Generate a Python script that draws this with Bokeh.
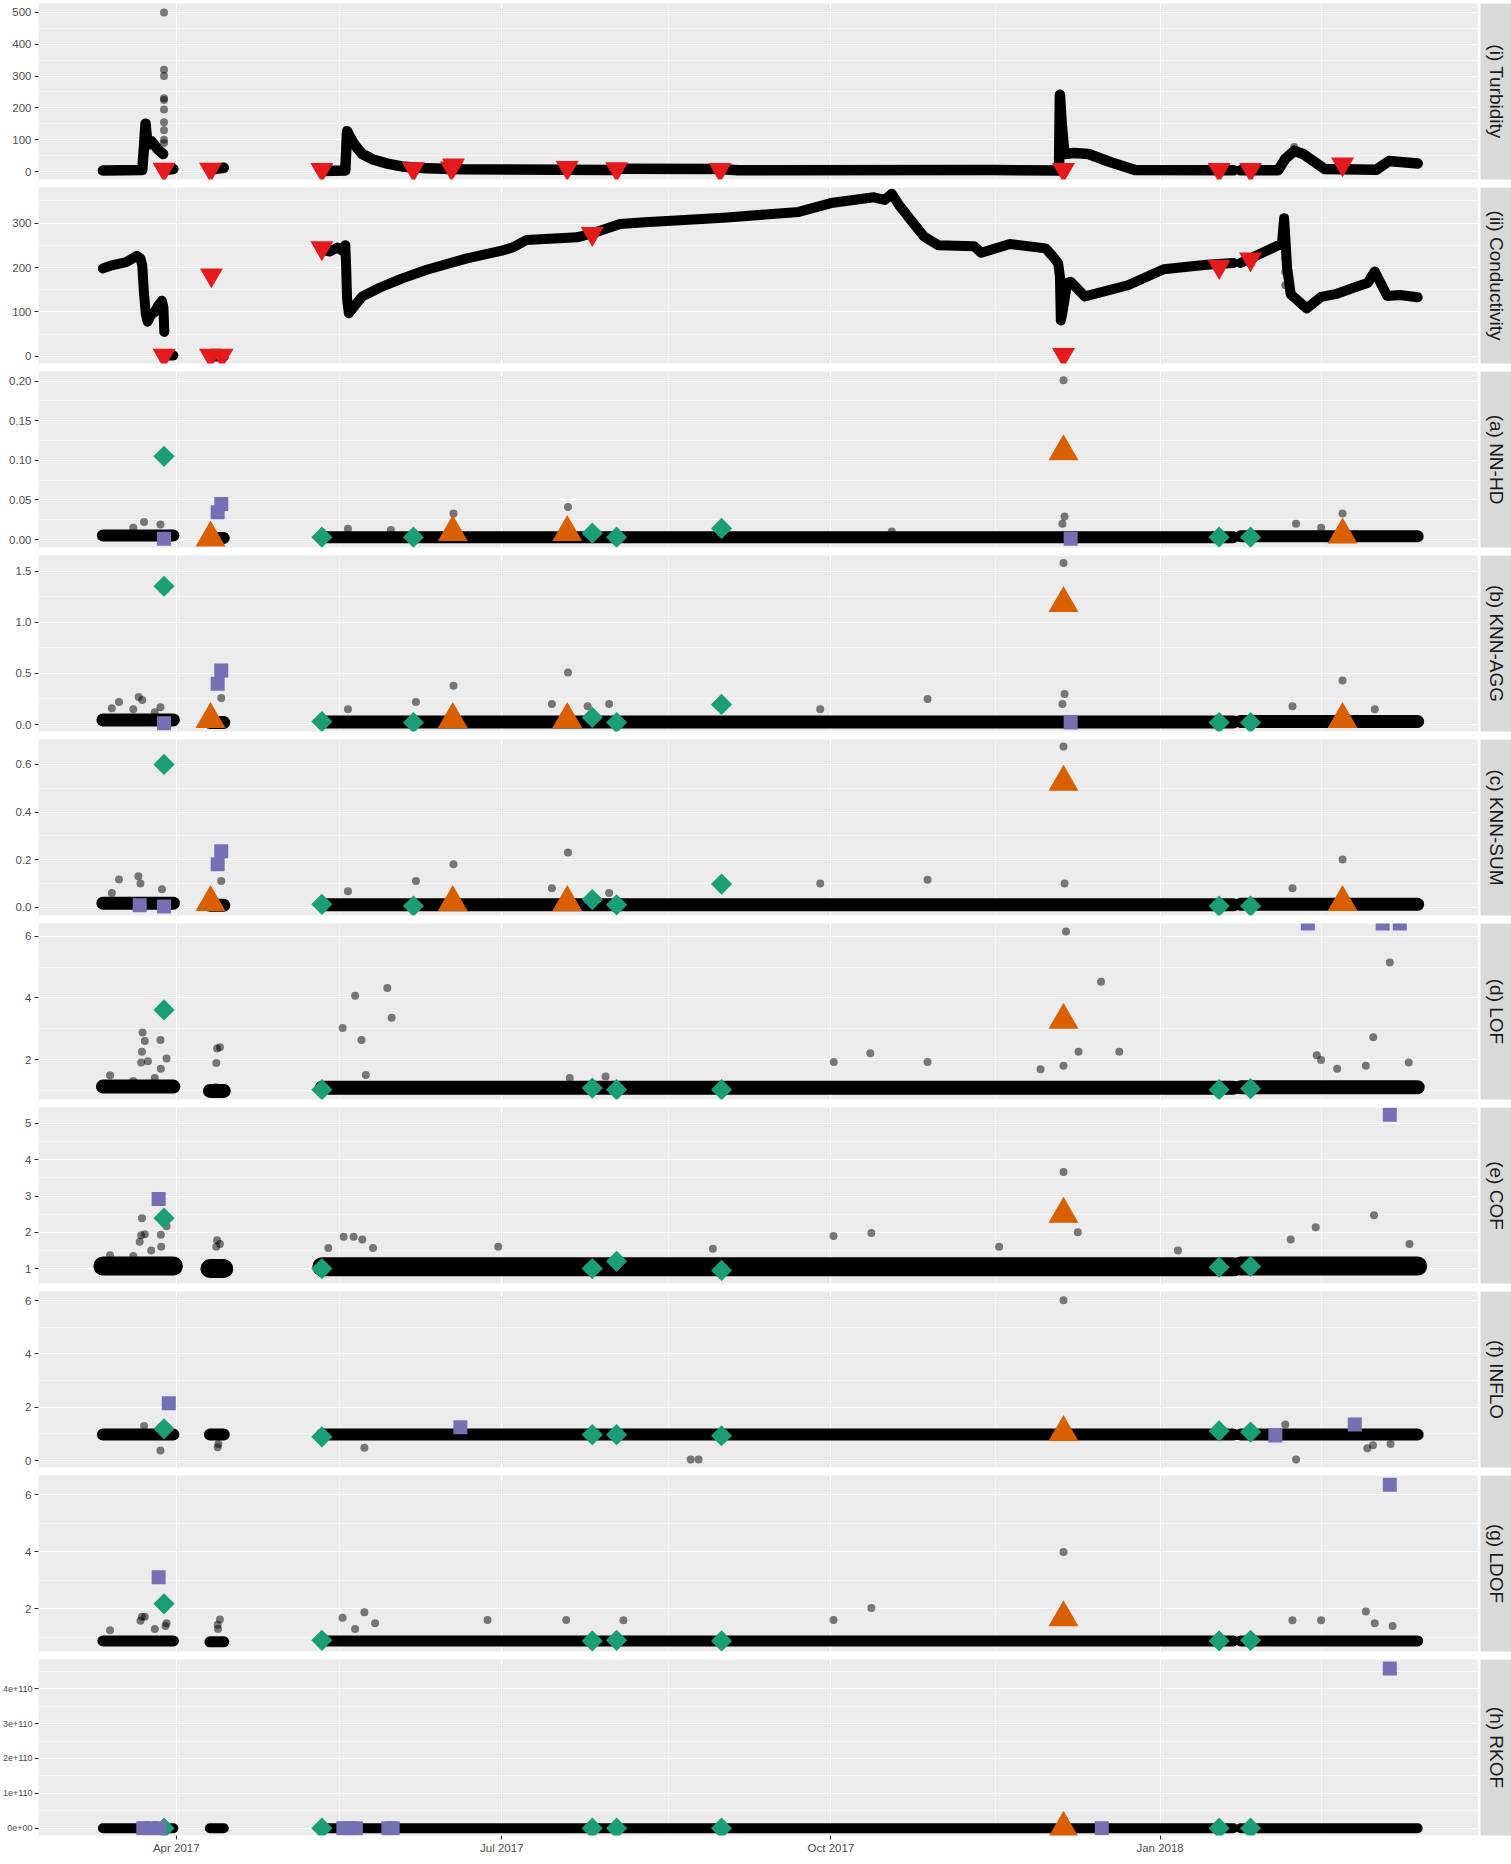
import math
import pandas as pd
from bokeh.plotting import figure
from bokeh.layouts import column, row
from bokeh.models import Range1d, FixedTicker, CustomJSTickFormatter, DatetimeTickFormatter
from bokeh.embed import file_html
from bokeh.resources import INLINE
from bokeh.core.properties import value

nan = float("nan")

# ---------------- axis / labels ----------------
x_start = "2017-02-21 12:00"
x_end = "2018-03-31 00:00"
x_major = ["2017-04-01", "2017-07-01", "2017-10-01", "2018-01-01"]
x_minor = ["2017-05-16 12:00", "2017-08-16 12:00", "2017-11-16 00:00", "2018-02-15 00:00"]
strip_titles = ["(i) Turbidity", "(ii) Conductivity", "(a) NN-HD", "(b) KNN-AGG", "(c) KNN-SUM",
                "(d) LOF", "(e) COF", "(f) INFLO", "(g) LDOF", "(h) RKOF"]

# ---------------- (i) Turbidity ----------------
turb_dates = ["2017-03-11 12:00", "2017-03-22 12:00", "2017-03-23 00:00", "2017-03-23 10:00", "2017-03-23 20:00",
              "2017-03-24 06:00", "2017-03-25 02:00", "2017-03-27 00:00", "2017-03-28 08:00",
              "2017-03-28 12:00",
              "2017-03-28 18:00", "2017-03-31 05:00",
              "2017-04-05 00:00",
              "2017-04-10 12:00", "2017-04-14 07:00",
              "2017-05-01 00:00",
              "2017-05-11 17:00", "2017-05-18 06:00", "2017-05-18 18:00", "2017-05-19 12:00", "2017-05-20 12:00",
              "2017-05-21 12:00", "2017-05-23 00:00", "2017-05-26 00:00", "2017-05-30 00:00", "2017-06-03 00:00",
              "2017-06-10 00:00", "2017-06-20 00:00", "2017-08-01 00:00",
              "2017-08-03 00:00", "2017-08-31 00:00", "2017-09-05 00:00", "2017-11-15 00:00", "2017-12-03 18:00",
              "2017-12-04 00:00", "2017-12-04 12:00", "2017-12-05 06:00", "2017-12-08 00:00", "2017-12-12 00:00",
              "2017-12-18 00:00", "2017-12-25 00:00", "2018-01-21 12:00",
              "2018-01-22 12:00",
              "2018-01-23 12:00", "2018-02-03 00:00", "2018-02-05 00:00", "2018-02-07 12:00", "2018-02-10 00:00",
              "2018-02-16 00:00", "2018-03-02 12:00", "2018-03-06 00:00", "2018-03-14 00:00"]
turb_vals = [3, 5, 80, 150, 100, 85, 95, 68, 55,
             nan,
             5, 8,
             nan,
             6, 12,
             nan,
             2, 3, 127, 110, 90,
             75, 55, 38, 25, 16,
             10, 7, 5,
             9, 8, 4, 5, 3,
             241, 150, 55, 58, 55,
             30, 5, 4,
             nan,
             4, 4, 40, 65, 55,
             8, 6, 33, 25]
turb_pts_dates = ["2017-03-28 14:00"] * 10 + ["2017-12-04 02:00"] * 4 + ["2017-05-18 12:00"] * 2 + ["2018-02-07 12:00"]
turb_pts_vals = [500, 320, 300, 230, 225, 195, 155, 130, 100, 90, 236, 222, 196, 180, 30, 55, 77]
turb_anom_dates = ["2017-03-28 14:00", "2017-04-10 14:00", "2017-05-11 17:00", "2017-06-06 07:00", "2017-06-16 22:00",
                   "2017-06-17 12:00", "2017-07-19 07:00", "2017-08-02 02:00", "2017-08-31 00:00", "2017-12-05 00:00",
                   "2018-01-17 12:00", "2018-01-26 07:00", "2018-02-21 00:00"]
turb_anom_vals = [7, 7, 6, 8, 11, 20, 12, 8, 6, 6, 6, 6, 23]

# ---------------- (ii) Conductivity ----------------
cond_dates = ["2017-03-11 12:00", "2017-03-14 00:00", "2017-03-18 00:00", "2017-03-21 00:00", "2017-03-22 00:00",
              "2017-03-22 12:00", "2017-03-23 00:00", "2017-03-23 12:00", "2017-03-24 00:00", "2017-03-25 00:00",
              "2017-03-26 00:00", "2017-03-27 00:00", "2017-03-28 00:00", "2017-03-28 10:00", "2017-03-28 16:00",
              "2017-03-28 20:00",
              "2017-03-29 02:00", "2017-03-31 05:00",
              "2017-04-05 00:00",
              "2017-04-10 12:00", "2017-04-14 07:00",
              "2017-05-01 00:00",
              "2017-05-11 17:00", "2017-05-14 00:00", "2017-05-16 00:00", "2017-05-18 00:00", "2017-05-18 06:00",
              "2017-05-18 12:00", "2017-05-18 18:00", "2017-05-19 06:00", "2017-05-21 00:00", "2017-05-23 00:00",
              "2017-05-28 00:00", "2017-06-03 00:00", "2017-06-10 00:00", "2017-06-21 00:00", "2017-07-01 00:00",
              "2017-07-04 00:00", "2017-07-08 00:00", "2017-07-22 00:00", "2017-07-26 00:00", "2017-08-03 00:00",
              "2017-08-10 00:00", "2017-09-01 00:00", "2017-09-22 00:00", "2017-10-01 00:00", "2017-10-13 00:00",
              "2017-10-16 00:00", "2017-10-18 00:00", "2017-10-20 00:00", "2017-10-24 00:00", "2017-10-27 00:00",
              "2017-10-31 00:00", "2017-11-10 00:00", "2017-11-12 00:00", "2017-11-20 00:00", "2017-11-30 00:00",
              "2017-12-02 00:00", "2017-12-03 12:00", "2017-12-04 00:00", "2017-12-04 06:00", "2017-12-04 18:00",
              "2017-12-06 00:00", "2017-12-07 00:00", "2017-12-11 00:00", "2017-12-23 00:00", "2018-01-02 00:00",
              "2018-01-14 00:00", "2018-01-21 12:00",
              "2018-01-22 12:00",
              "2018-01-23 12:00", "2018-02-04 02:00", "2018-02-04 16:00", "2018-02-05 12:00", "2018-02-06 12:00",
              "2018-02-11 00:00", "2018-02-15 00:00", "2018-02-19 00:00", "2018-02-24 16:00", "2018-02-28 00:00",
              "2018-03-02 00:00", "2018-03-05 12:00", "2018-03-09 00:00", "2018-03-14 00:00"]
cond_vals = [198, 205, 212, 226, 220,
             205, 140, 95, 78, 95,
             100, 115, 125, 110, 55,
             nan,
             2, 2,
             nan,
             0, 0,
             nan,
             240, 236, 245, 235, 250,
             200, 130, 97, 115, 135,
             155, 175, 195, 220, 238,
             245, 262, 268, 276, 298,
             302, 312, 325, 345, 358,
             352, 366, 341, 300, 270,
             250, 248, 233, 253, 243,
             225, 210, 180, 81, 100,
             165, 168, 135, 160, 196,
             206, 210,
             nan,
             210, 254, 311, 200, 140,
             108, 134, 140, 156, 165,
             191, 136, 138, 133]
cond_pts_dates = ["2017-03-23 00:00"] * 3 + ["2017-03-28 10:00"] * 3 + ["2017-05-18 12:00"] * 3 + \
                 ["2017-12-04 02:00"] * 3 + ["2018-02-05 00:00"] * 5
cond_pts_vals = [150, 130, 115, 88, 80, 68, 200, 170, 135, 158, 128, 97, 280, 250, 220, 190, 160]
cond_anom_dates = ["2017-03-28 14:00", "2017-04-10 20:00", "2017-04-10 14:00", "2017-04-13 19:00", "2017-05-11 17:00",
                   "2017-07-26 07:00", "2017-12-05 00:00", "2018-01-17 12:00", "2018-01-26 07:00"]
cond_anom_vals = [2, 183, 2, 2, 244, 276, 4, 202, 219]

# ---------------- score panels: dense band of scores ----------------
band_dates = ["2017-03-11 12:00", "2017-03-31 05:00", "2017-04-05 00:00", "2017-04-10 10:00", "2017-04-14 07:00",
              "2017-05-01 00:00", "2017-05-11 17:00", "2018-01-21 12:00", "2018-01-22 12:00", "2018-01-23 12:00",
              "2018-03-14 00:00"]
nnhd_band = [0.005, 0.005, nan, 0.002, 0.002, nan, 0.003, 0.003, nan, 0.004, 0.004]
knnagg_band = [0.045, 0.045, nan, 0.02, 0.02, nan, 0.025, 0.025, nan, 0.03, 0.03]
knnsum_band = [0.017, 0.017, nan, 0.008, 0.008, nan, 0.01, 0.01, nan, 0.012, 0.012]
lof_band = [1.12, 1.12, nan, 0.98, 0.98, nan, 1.08, 1.08, nan, 1.1, 1.1]
cof_band = [1.07, 1.07, nan, 1.0, 1.0, nan, 1.05, 1.05, nan, 1.07, 1.07]
inflo_band = [0.98, 0.98, nan, 0.98, 0.98, nan, 0.98, 0.98, nan, 0.98, 0.98]
ldof_band = [0.88, 0.88, nan, 0.85, 0.85, nan, 0.88, 0.88, nan, 0.88, 0.88]
rkof_band = [0, 0, nan, 0, 0, nan, 0, 0, nan, 0, 0]

# green diamonds
green_dates_8 = ["2017-03-28 14:00", "2017-05-11 17:00", "2017-06-06 07:00", "2017-07-26 07:00", "2017-08-02 02:00",
                 "2017-08-31 10:00", "2018-01-17 12:00", "2018-01-26 07:00"]
green_dates_7 = ["2017-03-28 14:00", "2017-05-11 17:00", "2017-07-26 07:00", "2017-08-02 02:00",
                 "2017-08-31 10:00", "2018-01-17 12:00", "2018-01-26 07:00"]
nnhd_green = [0.105, 0.003, 0.003, 0.008, 0.003, 0.014, 0.003, 0.003]
knnagg_green = [1.353, 0.03, 0.02, 0.07, 0.02, 0.197, 0.02, 0.02]
knnsum_green = [0.60, 0.012, 0.005, 0.032, 0.01, 0.097, 0.005, 0.005]
lof_green = [3.61, 1.02, 1.07, 1.02, 1.02, 1.02, 1.05]
cof_green = [2.39, 1.0, 1.0, 1.2, 0.95, 1.04, 1.06]
inflo_green = [1.19, 0.89, 0.97, 0.97, 0.93, 1.11, 1.07]
ldof_green = [2.18, 0.9, 0.88, 0.9, 0.88, 0.88, 0.9]
rkof_green = [0, 0, 0, 0, 0, 0, 0]

# orange triangles
orange_dates_5 = ["2017-04-10 14:00", "2017-06-17 07:00", "2017-07-19 07:00", "2017-12-05 00:00", "2018-02-21 00:00"]
orange_dates_1 = ["2017-12-05 00:00"]
nnhd_orange = [0.002, 0.009, 0.009, 0.111, 0.006]
knnagg_orange = [0.05, 0.05, 0.05, 1.186, 0.05]
knnsum_orange = [0.02, 0.02, 0.02, 0.526, 0.02]
lof_orange = [3.28]
cof_orange = [2.5]
inflo_orange = [1.06]
ldof_orange = [1.7]
rkof_orange = [0]

# purple squares
nnhd_purple_dates = ["2017-03-28 14:00", "2017-04-12 14:00", "2017-04-13 14:00", "2017-12-07 00:00"]
nnhd_purple = [0.001, 0.0345, 0.045, 0.001]
knnagg_purple_dates = ["2017-03-28 14:00", "2017-04-12 14:00", "2017-04-13 14:00", "2017-12-07 00:00"]
knnagg_purple = [0.013, 0.40, 0.53, 0.02]
knnsum_purple_dates = ["2017-03-21 19:00", "2017-03-28 14:00", "2017-04-12 14:00", "2017-04-13 14:00"]
knnsum_purple = [0.008, 0.003, 0.18, 0.235]
lof_purple_dates = ["2018-02-11 07:00", "2018-03-04 05:00", "2018-03-09 00:00"]
lof_purple = [6.42, 6.42, 6.42]
cof_purple_dates = ["2017-03-27 02:00", "2018-03-06 05:00"]
cof_purple = [2.92, 5.24]
inflo_purple_dates = ["2017-03-29 22:00", "2017-06-19 10:00", "2018-02-02 05:00", "2018-02-24 10:00"]
inflo_purple = [2.15, 1.25, 0.94, 1.35]
ldof_purple_dates = ["2017-03-27 02:00", "2018-03-06 05:00"]
ldof_purple = [3.11, 6.35]
rkof_purple_dates = ["2017-03-22 19:00", "2017-03-25 00:00", "2017-03-27 07:00", "2017-05-17 17:00",
                     "2017-05-19 12:00", "2017-05-21 05:00", "2017-05-30 07:00", "2017-05-31 12:00",
                     "2017-12-15 17:00", "2018-03-06 05:00"]
rkof_purple = [0, 0, 0, 0, 0, 0, 0, 0, 0, 4.58e110]

# grey (semi-transparent) individual scores standing out of the band
nnhd_gray_dates = ["2017-03-20", "2017-03-23", "2017-03-27 14:00", "2017-05-19", "2017-06-17 12:00",
                   "2017-07-19 12:00", "2017-12-05", "2017-12-05 07:00", "2017-12-04 17:00", "2018-02-21",
                   "2018-02-08", "2018-02-15", "2017-05-31", "2017-10-18"]
nnhd_gray = [0.015, 0.022, 0.019, 0.0135, 0.033, 0.041, 0.201, 0.029, 0.02, 0.033, 0.02, 0.015, 0.012, 0.01]
knnagg_gray_dates = ["2017-03-14", "2017-03-16", "2017-03-20", "2017-03-21 12:00", "2017-03-22 12:00", "2017-03-26",
                     "2017-03-27 14:00", "2017-04-13 14:00", "2017-05-19", "2017-06-07", "2017-06-17 12:00",
                     "2017-07-15", "2017-07-19 12:00", "2017-07-25", "2017-07-31", "2017-09-28", "2017-10-28",
                     "2017-12-05", "2017-12-05 07:00", "2017-12-04 17:00", "2018-02-07", "2018-02-21", "2018-03-02"]
knnagg_gray = [0.16, 0.22, 0.15, 0.27, 0.24, 0.12, 0.17, 0.26, 0.15, 0.22, 0.38, 0.2, 0.51, 0.18, 0.2, 0.15,
               0.25, 1.58, 0.30, 0.2, 0.18, 0.43, 0.15]
knnsum_gray_dates = ["2017-03-14", "2017-03-16", "2017-03-21 10:00", "2017-03-22", "2017-03-28", "2017-04-13 14:00",
                     "2017-05-19", "2017-06-07", "2017-06-17 12:00", "2017-07-15", "2017-07-19 12:00", "2017-07-31",
                     "2017-09-28", "2017-10-28", "2017-12-05", "2017-12-05 07:00", "2018-02-07", "2018-02-21"]
knnsum_gray = [0.06, 0.116, 0.13, 0.10, 0.075, 0.11, 0.067, 0.11, 0.18, 0.08, 0.23, 0.06, 0.1, 0.115, 0.676,
               0.1, 0.08, 0.20]
lof_gray_dates = ["2017-03-13 12:00", "2017-03-20", "2017-03-22 05:00", "2017-03-22 10:00", "2017-03-22 14:00",
                  "2017-03-23 05:00", "2017-03-24 02:00", "2017-03-26", "2017-03-27 14:00", "2017-03-27 17:00",
                  "2017-03-29 07:00", "2017-04-12", "2017-04-12 05:00", "2017-04-12 10:00", "2017-04-13 05:00",
                  "2017-05-17 12:00", "2017-05-21", "2017-05-22 19:00", "2017-05-24", "2017-05-30",
                  "2017-05-31 05:00", "2017-07-20", "2017-07-30", "2017-10-01 19:00", "2017-10-12",
                  "2017-10-28", "2017-11-28 14:00", "2017-12-05", "2017-12-05 17:00", "2017-12-09 05:00",
                  "2017-12-15 12:00", "2017-12-20 14:00", "2018-02-13 19:00", "2018-02-15", "2018-02-19 12:00",
                  "2018-02-27 12:00", "2018-03-01 14:00", "2018-03-06 05:00", "2018-03-11 12:00"]
lof_gray = [1.49, 1.3, 1.9, 2.25, 2.88, 2.6, 1.94, 1.4, 2.63, 1.7, 2.03, 1.1, 1.89, 2.36, 2.4, 3.02, 4.07, 2.63,
            1.5, 4.32, 3.36, 1.4, 1.45, 1.92, 2.2, 1.92, 1.68, 1.8, 6.16, 2.25, 4.53, 2.25, 2.14, 1.98, 1.7, 1.8,
            2.72, 5.15, 1.9]
cof_gray_dates = ["2017-03-13 12:00", "2017-03-20", "2017-03-21 19:00", "2017-03-22 05:00", "2017-03-22 10:00",
                  "2017-03-23 05:00", "2017-03-25", "2017-03-27 17:00", "2017-03-27 19:00", "2017-03-29 07:00",
                  "2017-04-12 05:00", "2017-04-12 10:00", "2017-04-13 05:00", "2017-05-13 12:00",
                  "2017-05-17 19:00", "2017-05-20 14:00", "2017-05-23", "2017-05-26", "2017-06-30", "2017-08-29",
                  "2017-10-01 17:00", "2017-10-12 07:00", "2017-11-17", "2017-12-05", "2017-12-09", "2018-01-06",
                  "2018-02-06 12:00", "2018-02-13 12:00", "2018-03-01 19:00", "2018-03-11 17:00"]
cof_gray = [1.37, 1.35, 1.74, 1.92, 2.39, 1.95, 1.5, 1.93, 1.6, 2.17, 1.6, 1.78, 1.68, 1.57, 1.88, 1.88, 1.8,
            1.57, 1.6, 1.55, 1.9, 1.98, 1.6, 3.66, 2.0, 1.5, 1.8, 2.14, 2.47, 1.68]
inflo_gray_dates = ["2017-03-23", "2017-03-27 14:00", "2017-04-12 14:00", "2017-04-12 19:00", "2017-05-23 14:00",
                    "2017-08-22 19:00", "2017-08-25", "2017-12-05", "2018-02-05", "2018-02-08",
                    "2018-02-27 22:00", "2018-03-01 12:00", "2018-03-06 10:00"]
inflo_gray = [1.3, 0.375, 0.5, 0.62, 0.48, 0.04, 0.04, 6.01, 1.35, 0.04, 0.46, 0.57, 0.62]
ldof_gray_dates = ["2017-03-13 12:00", "2017-03-22", "2017-03-22 10:00", "2017-03-23 05:00", "2017-03-26",
                   "2017-03-29", "2017-03-29 07:00", "2017-04-12 14:00", "2017-04-12 16:00", "2017-04-13 05:00",
                   "2017-05-17 12:00", "2017-05-21", "2017-05-23 14:00", "2017-05-26 14:00", "2017-06-27",
                   "2017-07-19", "2017-08-04", "2017-10-01 17:00", "2017-10-12 07:00", "2017-12-05",
                   "2018-02-07", "2018-02-15", "2018-02-27 12:00", "2018-03-02", "2018-03-07"]
ldof_gray = [1.25, 1.59, 1.73, 1.73, 1.3, 1.4, 1.5, 1.45, 1.3, 1.63, 1.69, 1.3, 1.88, 1.5, 1.61, 1.61, 1.6,
             1.61, 2.03, 3.99, 1.6, 1.6, 1.91, 1.5, 1.4]
rkof_gray_dates = []
rkof_gray = []

# ---------------- panel settings ----------------
LB = 50            # left border holding the y tick labels
SHIFT = LB - 38    # part of the left border pushed off-page (as in the reference crop)
FW = 1440
FH = 176
STRIP_W = 33
FONT = "Liberation Sans"
GREEN, ORANGE, PURPLE, RED = "#1B9E77", "#D95F02", "#7570B3", "#E41A1C"


def T(lst):
    return pd.to_datetime(pd.Series(list(lst), dtype="object"), format="mixed").to_numpy()


def ms(lst):
    return [pd.Timestamp(d).value / 1e6 for d in lst]


def make_fig(i, y0, y1, yticks, yminor, fmt_code, label_size="11.5px", standoff=3):
    top = 3 if i == 0 else 0
    bottom = 8 if i < 9 else 29
    p = figure(width=LB + FW, height=top + FH + bottom,
               x_range=Range1d(pd.Timestamp(x_start), pd.Timestamp(x_end)),
               y_range=Range1d(y0, y1), x_axis_type="datetime",
               x_axis_location="below" if i == 9 else None,
               output_backend="svg", toolbar_location=None,
               min_border_left=LB, min_border_right=0, min_border_top=top, min_border_bottom=bottom)
    p.background_fill_color = "#EBEBEB"
    p.border_fill_color = "white"
    p.outline_line_color = None
    xt = FixedTicker(ticks=ms(x_major), minor_ticks=ms(x_minor))
    yt = FixedTicker(ticks=yticks, minor_ticks=yminor)
    p.xgrid.ticker = xt
    p.ygrid.ticker = yt
    p.yaxis.ticker = yt
    for g in (p.xgrid, p.ygrid):
        g.grid_line_color = "white"
        g.grid_line_width = 1.1
        g.minor_grid_line_color = "white"
        g.minor_grid_line_width = 0.55
    ax = p.yaxis[0]
    ax.formatter = CustomJSTickFormatter(code=fmt_code)
    ax.axis_line_color = None
    ax.major_tick_line_color = "#333333"
    ax.major_tick_in = 0
    ax.major_tick_out = 4
    ax.minor_tick_line_color = None
    ax.major_label_text_color = "#4D4D4D"
    ax.major_label_text_font = FONT
    ax.major_label_text_font_size = label_size
    ax.major_label_standoff = standoff
    if i == 9:
        xa = p.xaxis[0]
        xa.ticker = xt
        xa.formatter = DatetimeTickFormatter(days="%b %Y", months="%b %Y", years="%b %Y",
                                             hours="%b %Y", minutes="%b %Y")
        xa.axis_line_color = None
        xa.major_tick_line_color = "#333333"
        xa.major_tick_in = 0
        xa.major_tick_out = 4
        xa.minor_tick_line_color = None
        xa.major_label_text_color = "#4D4D4D"
        xa.major_label_text_font = FONT
        xa.major_label_text_font_size = "11.5px"
        xa.major_label_standoff = 2
    return p


def make_strip(i, title):
    top = 3 if i == 0 else 0
    bottom = 8 if i < 9 else 29
    s = figure(width=STRIP_W, height=top + FH + bottom, x_range=Range1d(0, 1), y_range=Range1d(0, 1),
               x_axis_location=None, y_axis_location=None, toolbar_location=None, output_backend="svg",
               min_border_left=STRIP_W - 31, min_border_right=0, min_border_top=top, min_border_bottom=bottom)
    s.background_fill_color = "#D9D9D9"
    s.border_fill_color = "white"
    s.outline_line_color = None
    s.xgrid.visible = False
    s.ygrid.visible = False
    s.text(x=[0.5], y=[0.5], text=[title], angle=-math.pi / 2, text_align="center", text_baseline="middle",
           text_font=value(FONT), text_font_size="19px", text_color="#1A1A1A")
    return s


def dec(n):
    return "return tick.toFixed(%d);" % n


def gray_points(p, d, v):
    if len(d):
        p.scatter(T(d), v, size=8, fill_color="black", fill_alpha=0.5, line_color=None)


figs = []

# (i) turbidity
p = make_fig(0, -25, 528, [0, 100, 200, 300, 400, 500], [50, 150, 250, 350, 450], dec(0))
p.line(T(turb_dates), turb_vals, line_width=10.5, color="black", line_cap="round", line_join="round")
gray_points(p, turb_pts_dates, turb_pts_vals)
p.scatter(T(turb_anom_dates), turb_anom_vals, marker="inverted_triangle", size=23, fill_color=RED, line_color=None)
figs.append(p)

# (ii) conductivity
p = make_fig(1, -16, 380, [0, 100, 200, 300], [50, 150, 250, 350], dec(0))
p.line(T(cond_dates), cond_vals, line_width=10, color="black", line_cap="round", line_join="round")
gray_points(p, cond_pts_dates, cond_pts_vals)
p.scatter(T(cond_anom_dates), cond_anom_vals, marker="inverted_triangle", size=23, fill_color=RED, line_color=None)
figs.append(p)

score_panels = [
    dict(y=(-0.0101, 0.2122), t=[0, 0.05, 0.1, 0.15, 0.2], m=[0.025, 0.075, 0.125, 0.175], f=dec(2),
         band=nnhd_band, bw=12, gd=nnhd_gray_dates, gv=nnhd_gray, grd=green_dates_8, grv=nnhd_green,
         od=orange_dates_5, ov=nnhd_orange, pd_=nnhd_purple_dates, pv=nnhd_purple),
    dict(y=(-0.068, 1.654), t=[0, 0.5, 1.0, 1.5], m=[0.25, 0.75, 1.25], f=dec(1),
         band=knnagg_band, bw=13, gd=knnagg_gray_dates, gv=knnagg_gray, grd=green_dates_8, grv=knnagg_green,
         od=orange_dates_5, ov=knnagg_orange, pd_=knnagg_purple_dates, pv=knnagg_purple),
    dict(y=(-0.035, 0.705), t=[0, 0.2, 0.4, 0.6], m=[0.1, 0.3, 0.5], f=dec(1),
         band=knnsum_band, bw=13, gd=knnsum_gray_dates, gv=knnsum_gray, grd=green_dates_8, grv=knnsum_green,
         od=orange_dates_5, ov=knnsum_orange, pd_=knnsum_purple_dates, pv=knnsum_purple),
    dict(y=(0.70, 6.42), t=[2, 4, 6], m=[1, 3, 5], f=dec(0),
         band=lof_band, bw=14, gd=lof_gray_dates, gv=lof_gray, grd=green_dates_7, grv=lof_green,
         od=orange_dates_1, ov=lof_orange, pd_=lof_purple_dates, pv=lof_purple),
    dict(y=(0.59, 5.44), t=[1, 2, 3, 4, 5], m=[1.5, 2.5, 3.5, 4.5], f=dec(0),
         band=cof_band, bw=19, gd=cof_gray_dates, gv=cof_gray, grd=green_dates_7, grv=cof_green,
         od=orange_dates_1, ov=cof_orange, pd_=cof_purple_dates, pv=cof_purple),
    dict(y=(-0.26, 6.34), t=[0, 2, 4, 6], m=[1, 3, 5], f=dec(0),
         band=inflo_band, bw=12, gd=inflo_gray_dates, gv=inflo_gray, grd=green_dates_7, grv=inflo_green,
         od=orange_dates_1, ov=inflo_orange, pd_=inflo_purple_dates, pv=inflo_purple),
    dict(y=(0.51, 6.67), t=[2, 4, 6], m=[1, 3, 5], f=dec(0),
         band=ldof_band, bw=11, gd=ldof_gray_dates, gv=ldof_gray, grd=green_dates_7, grv=ldof_green,
         od=orange_dates_1, ov=ldof_orange, pd_=ldof_purple_dates, pv=ldof_purple),
    dict(y=(-0.21e110, 4.84e110), t=[0, 1e110, 2e110, 3e110, 4e110],
         m=[0.5e110, 1.5e110, 2.5e110, 3.5e110, 4.5e110],
         f="return tick == 0 ? '0e+00' : tick.toExponential(0);",
         band=rkof_band, bw=10, gd=rkof_gray_dates, gv=rkof_gray, grd=green_dates_7, grv=rkof_green,
         od=orange_dates_1, ov=rkof_orange, pd_=rkof_purple_dates, pv=rkof_purple,
         ls="9px", so=2),
]

for k, cfg in enumerate(score_panels):
    i = k + 2
    p = make_fig(i, cfg["y"][0], cfg["y"][1], cfg["t"], cfg["m"], cfg["f"],
                 label_size=cfg.get("ls", "11.5px"), standoff=cfg.get("so", 3))
    p.line(T(band_dates), cfg["band"], line_width=cfg["bw"], color="black", line_cap="round", line_join="round")
    gray_points(p, cfg["gd"], cfg["gv"])
    p.scatter(T(cfg["grd"]), cfg["grv"], marker="square", angle=math.pi / 4, size=15,
              fill_color=GREEN, line_color=None)
    p.scatter(T(cfg["od"]), cfg["ov"], marker="triangle", size=30, fill_color=ORANGE, line_color=None)
    p.scatter(T(cfg["pd_"]), cfg["pv"], marker="square", size=14, fill_color=PURPLE, line_color=None)
    figs.append(p)

rows = [row(figs[i], make_strip(i, strip_titles[i]), spacing=0) for i in range(10)]
layout = column(*rows, spacing=0, margin=(0, 0, 0, -SHIFT))

open("out.html", "w").write(file_html(layout, INLINE, title="Anomaly scores"))
